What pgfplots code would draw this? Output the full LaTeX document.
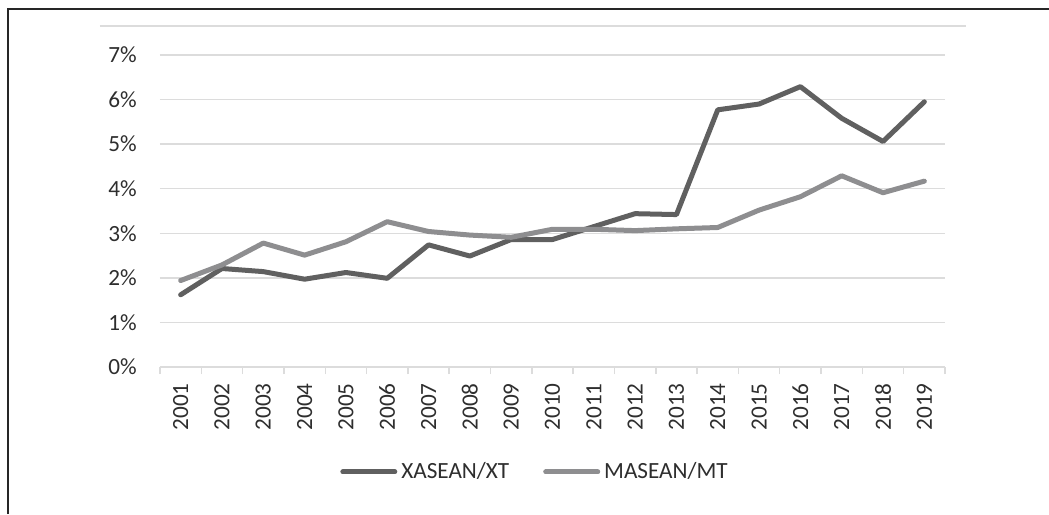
\documentclass[border=0pt]{standalone}
\usepackage{pgfplots}
\pgfplotsset{compat=1.18}
\usepackage{fontspec}
\setmainfont{Carlito}
\definecolor{darkser}{HTML}{606060}
\definecolor{lightser}{HTML}{8E8E90}
\definecolor{gridc}{HTML}{DCDCDC}
\definecolor{txt}{HTML}{2E2E2E}
\begin{document}
\begin{tikzpicture}
\useasboundingbox (-80pt,-73.5pt) rectangle (444.5pt,183.5pt);
\begin{axis}[
  at={(0,0)}, anchor=south west,
  scale only axis, width=392.5pt, height=156pt,
  xmin=-0.5, xmax=18.5, ymin=0, ymax=7,
  axis line style={draw=none},
  xtick={0,...,18},
  xticklabels={2001,2002,2003,2004,2005,2006,2007,2008,2009,2010,2011,2012,2013,2014,2015,2016,2017,2018,2019},
  minor xtick={-0.5,0.5,...,18.5},
  xtick pos=bottom,
  ytick pos=left,
  major tick length=0pt,
  minor tick length=3.5pt,
  tick align=outside,
  minor tick style={gridc, line width=0.75pt},
  ytick={0,...,7},
  yticklabels={0\%,1\%,2\%,3\%,4\%,5\%,6\%,7\%},
  ymajorgrids, grid style={gridc, line width=0.75pt},
  xticklabel style={rotate=90, anchor=east, inner sep=0pt},
  xticklabel shift=8pt,
  yticklabel style={anchor=east, inner sep=0pt},
  yticklabel shift=11.5pt,
  tick label style={font=\fontsize{11.6}{13}\selectfont, text=txt},
  legend style={draw=none, at={(0.479,-0.3365)}, anchor=center,
    font=\fontsize{11.6}{13}\selectfont, text=txt,
    legend columns=2, inner sep=0pt,
    /tikz/every even column/.append style={column sep=15pt}},
  legend image code/.code={\draw[#1, line cap=round] (0pt,0pt) -- (26pt,0pt);},
  legend cell align=left,
  clip=false,
]
\addplot[darkser, line width=2.5pt, line cap=round, line join=round] coordinates {
(0,1.62) (1,2.21) (2,2.14) (3,1.97) (4,2.12) (5,1.99) (6,2.74) (7,2.49) (8,2.86) (9,2.86)
(10,3.15) (11,3.44) (12,3.42) (13,5.77) (14,5.90) (15,6.29) (16,5.58) (17,5.06) (18,5.95)};
\addlegendentry{XASEAN/XT}
\addplot[lightser, line width=2.5pt, line cap=round, line join=round] coordinates {
(0,1.94) (1,2.29) (2,2.78) (3,2.51) (4,2.81) (5,3.26) (6,3.04) (7,2.96) (8,2.91) (9,3.09)
(10,3.09) (11,3.06) (12,3.10) (13,3.13) (14,3.52) (15,3.82) (16,4.29) (17,3.91) (18,4.17)};
\addlegendentry{MASEAN/MT}
\end{axis}
\draw[gridc, line width=0.75pt] (-30pt,170.5pt) -- (403pt,170.5pt);
\draw[black!85, line width=1pt] (-76pt,-73.5pt) -- (-76pt,179pt) -- (444.5pt,179pt);
\end{tikzpicture}
\end{document}
